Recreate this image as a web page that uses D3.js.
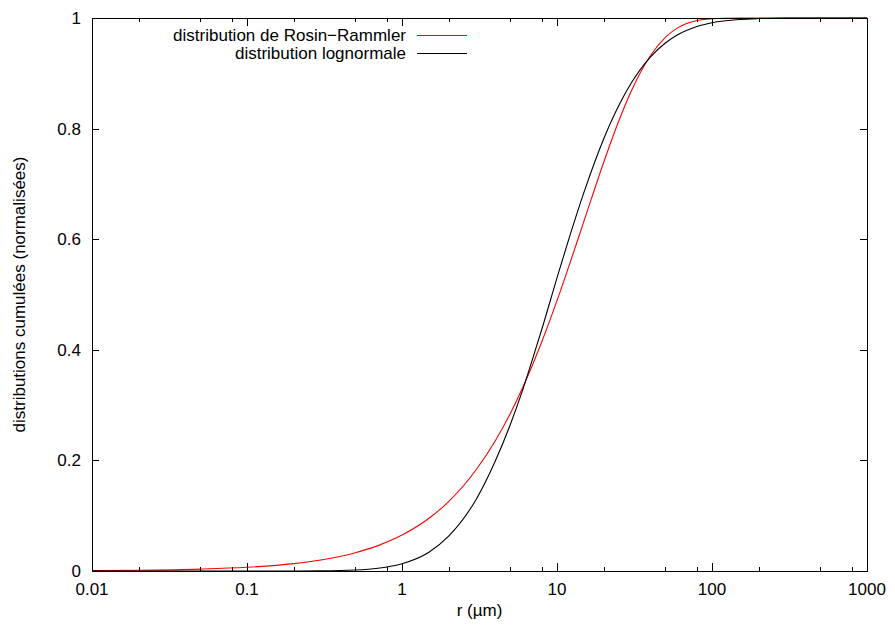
<!DOCTYPE html>
<html>
<head>
<meta charset="utf-8">
<script src="https://cdn.jsdelivr.net/npm/d3@7"></script>
<style>
  html, body { margin: 0; padding: 0; background: #fff; }
  svg { display: block; font-family: "Liberation Sans", Arial, Helvetica, sans-serif; }
</style>
</head>
<body>
<svg id="chart" width="895" height="630"></svg>
<script>
// Particle radius samples (µm)
const radii = [0.01, 0.02, 0.05, 0.1, 0.2, 0.3, 0.5, 0.7, 1, 1.5, 2, 3, 4, 5, 6, 7, 8, 10, 12, 15, 20, 25, 30, 40, 50, 60, 80, 100, 150, 200, 300, 500, 1000];

// Cumulative Rosin-Rammler distribution (normalised)
const rosinRammler = [0.0007, 0.0013, 0.0034, 0.0067, 0.0133, 0.0199, 0.033, 0.0459, 0.0649, 0.0958, 0.1256, 0.1826, 0.2355, 0.285, 0.3315, 0.3749, 0.4155, 0.4889, 0.5531, 0.6346, 0.7388, 0.8132, 0.8665, 0.9317, 0.9651, 0.9822, 0.9954, 0.9988, 0.9999, 1, 1, 1, 1];

// Cumulative lognormal distribution (normalised)
const lognormal = [0, 0, 0, 0, 0.0001, 0.0003, 0.0018, 0.005, 0.0132, 0.0345, 0.063, 0.129, 0.199, 0.265, 0.327, 0.386, 0.438, 0.53, 0.603, 0.6866, 0.7813, 0.8413, 0.8814, 0.9292, 0.9548, 0.9696, 0.9847, 0.9915, 0.9974, 0.999, 0.9998, 1, 1];

const xMajorTicks = [0.01, 0.1, 1, 10, 100, 1000];
const xTickLabels = ["0.01", "0.1", "1", "10", "100", "1000"];
const xMinorFactors = [2, 5, 8];
const yTicks = [0, 0.2, 0.4, 0.6, 0.8, 1];
const yTickLabels = ["0", "0.2", "0.4", "0.6", "0.8", "1"];

const series = [
  { name: "distribution de Rosin\u2212Rammler", values: rosinRammler, color: "#ff0000" },
  { name: "distribution lognormale", values: lognormal, color: "#000000" }
];

const svg = d3.select("#chart");
const L = 92, R = 867, T = 18, B = 571;

const x = d3.scaleLog().domain([0.01, 1000]).range([L, R]);
const y = d3.scaleLinear().domain([0, 1]).range([B, T]);

const fontSize = 17;

// Minor ticks at 2, 5, 8 within each decade
const xMinor = [];
xMajorTicks.slice(0, -1).forEach(d => xMinorFactors.forEach(f => xMinor.push(d * f)));

const g = svg.append("g");

// Curves
const line = d3.line()
  .x((d, i) => x(radii[i]))
  .y(d => y(d))
  .curve(d3.curveMonotoneX);

series.forEach(s => {
  g.append("path")
    .attr("d", line(s.values))
    .attr("fill", "none")
    .attr("stroke", s.color)
    .attr("stroke-width", 1.1);
});

// Ticks (mirrored on all sides)
const ticks = svg.append("g").attr("stroke", "#000").attr("stroke-width", 1);
xMajorTicks.forEach(d => {
  const px = Math.round(x(d)) + 0.5;
  ticks.append("line").attr("x1", px).attr("x2", px).attr("y1", B).attr("y2", B - 8);
  ticks.append("line").attr("x1", px).attr("x2", px).attr("y1", T).attr("y2", T + 8);
});
xMinor.forEach(d => {
  const px = Math.round(x(d)) + 0.5;
  ticks.append("line").attr("x1", px).attr("x2", px).attr("y1", B).attr("y2", B - 4);
  ticks.append("line").attr("x1", px).attr("x2", px).attr("y1", T).attr("y2", T + 4);
});
yTicks.forEach(d => {
  const py = Math.round(y(d)) + 0.5;
  ticks.append("line").attr("x1", L).attr("x2", L + 7).attr("y1", py).attr("y2", py);
  ticks.append("line").attr("x1", R).attr("x2", R - 7).attr("y1", py).attr("y2", py);
});

// Frame
svg.append("rect")
  .attr("x", L + 0.5).attr("y", T + 0.5)
  .attr("width", R - L).attr("height", B - T)
  .attr("fill", "none").attr("stroke", "#000").attr("stroke-width", 1);

// Tick labels
xMajorTicks.forEach((d, i) => {
  svg.append("text")
    .attr("x", x(d)).attr("y", 595)
    .attr("text-anchor", "middle")
    .attr("font-size", fontSize)
    .text(xTickLabels[i]);
});
yTicks.forEach((d, i) => {
  svg.append("text")
    .attr("x", 81).attr("y", y(d) + 6)
    .attr("text-anchor", "end")
    .attr("font-size", fontSize)
    .text(yTickLabels[i]);
});

// Axis titles
svg.append("text")
  .attr("x", (L + R) / 2).attr("y", 616)
  .attr("text-anchor", "middle")
  .attr("font-size", fontSize)
  .text("r (\u00b5m)");

svg.append("text")
  .attr("transform", `translate(25,${(T + B) / 2}) rotate(-90)`)
  .attr("text-anchor", "middle")
  .attr("font-size", fontSize)
  .text("distributions cumulées (normalisées)");

// Legend
series.forEach((s, i) => {
  const ly = 35 + i * 18;
  svg.append("text")
    .attr("x", 406).attr("y", ly + 6)
    .attr("text-anchor", "end")
    .attr("font-size", fontSize)
    .text(s.name);
  svg.append("line")
    .attr("x1", 417).attr("x2", 467)
    .attr("y1", ly + 0.5).attr("y2", ly + 0.5)
    .attr("stroke", s.color).attr("stroke-width", 1.1);
});
</script>
</body>
</html>
